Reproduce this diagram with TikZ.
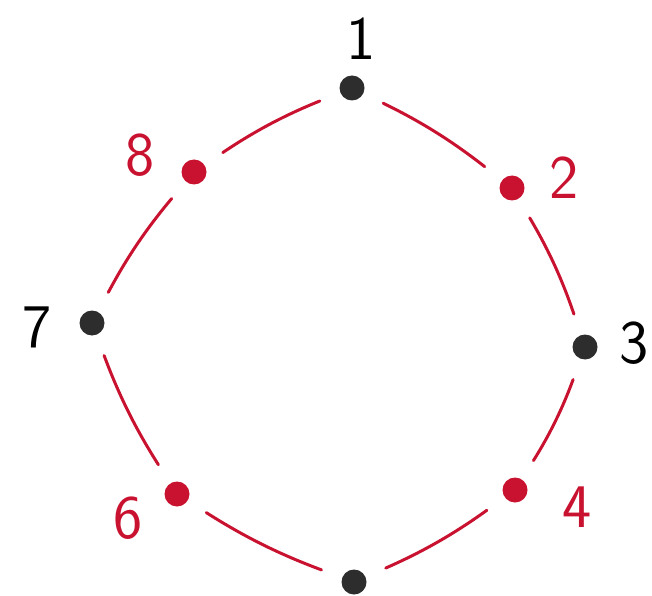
\documentclass[tikz,border=0pt]{standalone}
\usepackage{tikz}
\usetikzlibrary{positioning}
\definecolor{inkred}{RGB}{200,18,48}
\definecolor{inkgray}{RGB}{45,45,45}

\begin{document}
\begin{tikzpicture}[
 x=1pt,y=1pt,
 dot/.style={circle,inner sep=0pt,minimum size=25pt},
 blackdot/.style={dot,fill=inkgray},
 reddot/.style={dot,fill=inkred},
 num/.style={inner sep=0pt,font=\sffamily\fontsize{62}{62}\selectfont},
 rednum/.style={num,text=inkred},
 rim/.style={draw=inkred,line width=3pt,line cap=round,shorten >=22pt,shorten <=22pt,bend left=6}
]
\clip (0,0) rectangle (652,595);
% the eight points round the ring
\node[blackdot] (v1) at (352,507) {};
\node[reddot] (v2) at (512,407) {};
\node[blackdot] (v3) at (585,248) {};
\node[reddot] (v4) at (515,105) {};
\node[blackdot] (v5) at (354,13) {};
\node[reddot] (v6) at (177,101) {};
\node[blackdot] (v7) at (92,272) {};
\node[reddot] (v8) at (194,423) {};
% numbers
\node[num] (l1) at (361,556) {1};
\node[rednum] (l2) at (564,417) {2};
\node[num] (l3) at (634,252) {3};
\node[rednum] (l4) at (577,88) {4};
\node[rednum] (l6) at (128,77) {6};
\node[num] (l7) at (37,268) {7};
\node[rednum] (l8) at (140,440) {8};
% ring
\draw[rim] (v1) to (v2);
\draw[rim] (v2) to (v3);
\draw[rim] (v3) to (v4);
\draw[rim] (v4) to (v5);
\draw[rim] (v5) to (v6);
\draw[rim] (v6) to (v7);
\draw[rim] (v7) to (v8);
\draw[rim] (v8) to (v1);
\end{tikzpicture}
\end{document}
